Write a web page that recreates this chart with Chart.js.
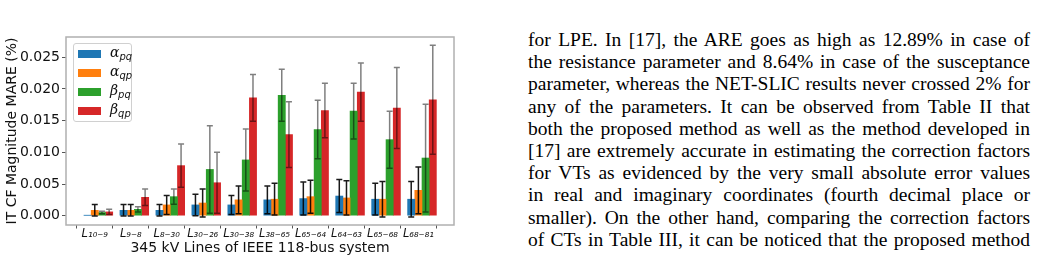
<!DOCTYPE html>
<html>
<head>
<meta charset="utf-8">
<script src="https://cdn.jsdelivr.net/npm/chart.js@4.4.0/dist/chart.umd.min.js"></script>
<style>
  html, body { margin: 0; padding: 0; background: #fff; }
  body { width: 1039px; height: 270px; overflow: hidden; position: relative; }
  #chartBox { position: absolute; left: 0; top: 0; width: 470px; height: 270px; }
  #legend {
    position: absolute; left: 73px; top: 43px; width: 57px; height: 77px;
    border: 1px solid #d0d0d0; border-radius: 3px; background: rgba(255,255,255,0.85);
    font-family: "DejaVu Serif", serif; font-size: 14px; color: #111;
  }
  #legend .row { position: absolute; left: 0; height: 19px; width: 57px; }
  #legend .sw { position: absolute; left: 4px; top: 5px; width: 23px; height: 8px; }
  #legend .lb { position: absolute; left: 36px; top: -1px; font-style: italic; white-space: nowrap; }
  #legend sub { font-size: 10px; vertical-align: -3px; font-family: "DejaVu Sans", sans-serif; }
  #text {
    position: absolute; left: 528px; top: 29px; width: 502px;
    font-family: "Liberation Serif", "Times New Roman", serif; font-size: 19.5px; line-height: 22.2px; color: #000;
  }
  #text div { text-align: justify; text-align-last: justify; white-space: nowrap; }
</style>
</head>
<body>
<div id="chartBox"><canvas id="canvas"></canvas></div>
<div id="legend"></div>
<div id="text">
  <div>for LPE. In [17], the ARE goes as high as 12.89% in case of</div>
  <div>the resistance parameter and 8.64% in case of the susceptance</div>
  <div>parameter, whereas the NET-SLIC results never crossed 2% for</div>
  <div>any of the parameters. It can be observed from Table II that</div>
  <div>both the proposed method as well as the method developed in</div>
  <div>[17] are extremely accurate in estimating the correction factors</div>
  <div>for VTs as evidenced by the very small absolute error values</div>
  <div>in real and imaginary coordinates (fourth decimal place or</div>
  <div>smaller). On the other hand, comparing the correction factors</div>
  <div>of CTs in Table III, it can be noticed that the proposed method</div>
</div>
<script>
// line names (subscript part of L)
var lines = ['10-9', '9-8', '8-30', '30-26', '30-38', '38-65', '65-64', '64-63', '65-68', '68-81'];

var alphaPq    = [0.00005, 0.00085, 0.00085, 0.0017, 0.0017, 0.0025, 0.0027, 0.0031, 0.0026, 0.0026];
var alphaPqErr = [0,       0.0009,  0.0009,  0.0017, 0.0015, 0.0022, 0.0026, 0.0026, 0.0025, 0.0028];
var alphaQp    = [0.00085, 0.00085, 0.0017,  0.0020, 0.0025, 0.0026, 0.0030, 0.0028, 0.0026, 0.0040];
var alphaQpErr = [0.0009,  0.0009,  0.0015,  0.0022, 0.0022, 0.0025, 0.0026, 0.0027, 0.0028, 0.0037];
var betaPq     = [0.0005,  0.0010,  0.0030,  0.0073, 0.0088, 0.0190, 0.0136, 0.0165, 0.0120, 0.0091];
var betaPqErr  = [0.0002,  0.0004,  0.0012,  0.0069, 0.0049, 0.0041, 0.0046, 0.0044, 0.0045, 0.0085];
var betaQp     = [0.0006,  0.0029,  0.0079,  0.0052, 0.0186, 0.0128, 0.0166, 0.0195, 0.0170, 0.0183];
var betaQpErr  = [0.0004,  0.0013,  0.0034,  0.0048, 0.0037, 0.0052, 0.0043, 0.0046, 0.0064, 0.0086];

var seriesSym = ['α', 'α', 'β', 'β'];
var seriesSub = ['pq', 'qp', 'pq', 'qp'];
var seriesVals = [alphaPq, alphaQp, betaPq, betaQp];
var seriesErrs = [alphaPqErr, alphaQpErr, betaPqErr, betaQpErr];
var colors = ['#1f77b4', '#ff7f0e', '#2ca02c', '#d62728'];
var errColors = ['rgba(0,0,0,0.9)', 'rgba(0,0,0,0.9)', 'rgba(0,0,0,0.5)', 'rgba(0,0,0,0.5)'];

var subMap = {'0':'₀','1':'₁','2':'₂','3':'₃','4':'₄','5':'₅','6':'₆','7':'₇','8':'₈','9':'₉','-':'₋'};
function toSub(s) {
  return s.split('').map(function (c) { return subMap[c] || c; }).join('');
}

var barWidth = 0.2;
var datasets = seriesVals.map(function (vals, k) {
  return {
    label: seriesSym[k] + seriesSub[k],
    data: vals.map(function (v, i) { return {x: i + (k - 1) * barWidth, y: v}; }),
    errors: seriesErrs[k],
    errColor: errColors[k],
    backgroundColor: colors[k],
    borderWidth: 0,
    grouped: false,
    barPercentage: 1,
    categoryPercentage: 1
  };
});

var errorBars = {
  id: 'errorBars',
  afterDatasetsDraw: function (chart) {
    var ctx = chart.ctx, y = chart.scales.y;
    chart.data.datasets.forEach(function (ds, k) {
      var meta = chart.getDatasetMeta(k);
      meta.data.forEach(function (bar, i) {
        var e = ds.errors[i];
        if (!e) return;
        var v = ds.data[i].y;
        var top = y.getPixelForValue(v + e), bot = y.getPixelForValue(v - e);
        ctx.save();
        ctx.strokeStyle = ds.errColor;
        ctx.lineWidth = 1.5;
        ctx.beginPath();
        ctx.moveTo(bar.x, top); ctx.lineTo(bar.x, bot);
        ctx.moveTo(bar.x - 3, top); ctx.lineTo(bar.x + 3, top);
        ctx.moveTo(bar.x - 3, bot); ctx.lineTo(bar.x + 3, bot);
        ctx.stroke();
        ctx.restore();
      });
    });
  }
};

var frame = {
  id: 'frame',
  afterDraw: function (chart) {
    var a = chart.chartArea, ctx = chart.ctx;
    ctx.save();
    ctx.strokeStyle = '#b0b0b0';
    ctx.lineWidth = 1.5;
    ctx.strokeRect(a.left, a.top, a.right - a.left, a.bottom - a.top);
    ctx.restore();
  }
};

new Chart(document.getElementById('canvas'), {
  type: 'bar',
  data: { datasets: datasets },
  plugins: [errorBars, frame],
  options: {
    responsive: true,
    maintainAspectRatio: false,
    animation: false,
    layout: { padding: { top: 37, right: 16, left: 0, bottom: 0 } },
    plugins: { legend: { display: false }, tooltip: { enabled: false } },
    scales: {
      x: {
        type: 'linear',
        offset: false,
        min: -0.8,
        max: 9.99,
        afterFit: function (s) { s.height = 45; },
        afterBuildTicks: function (s) {
          s.ticks = lines.map(function (l, i) { return {value: i}; });
        },
        grid: { display: true, drawOnChartArea: false, tickLength: 3.5, color: '#555', lineWidth: 1 },
        border: { display: false },
        ticks: {
          autoSkip: false,
          maxRotation: 0,
          padding: -1,
          color: '#111',
          font: { family: 'DejaVu Sans', size: 11.5, style: 'italic' },
          callback: function (v) { return 'L' + toSub(lines[v]); }
        },
        title: {
          display: true,
          text: '345 kV Lines of IEEE 118-bus system',
          color: '#111',
          font: { family: 'DejaVu Sans', size: 14 },
          padding: { top: 0, bottom: 13 }
        }
      },
      y: {
        min: -0.00147,
        max: 0.0282,
        afterFit: function (s) { s.width = 66; },
        grid: { display: true, drawOnChartArea: false, tickLength: 4, color: '#555', lineWidth: 1 },
        border: { display: false },
        ticks: {
          stepSize: 0.005,
          includeBounds: false,
          padding: 2,
          color: '#111',
          font: { family: 'DejaVu Sans', size: 14 },
          callback: function (v) { return v.toFixed(3); }
        },
        title: {
          display: true,
          text: 'IT CF Magnitude MARE (%)',
          color: '#111',
          font: { family: 'DejaVu Sans', size: 14 },
          padding: { top: 4, bottom: 0 }
        }
      }
    }
  }
});

// html legend so the subscripts are real subscripts
var legend = document.getElementById('legend');
seriesSym.forEach(function (s, k) {
  var row = document.createElement('div');
  row.className = 'row';
  row.style.top = (k * 19 + 1) + 'px';
  row.innerHTML = '<span class="sw" style="background:' + colors[k] + '"></span>' +
    '<span class="lb">' + s + '<sub>' + seriesSub[k] + '</sub></span>';
  legend.appendChild(row);
});
</script>
</body>
</html>
